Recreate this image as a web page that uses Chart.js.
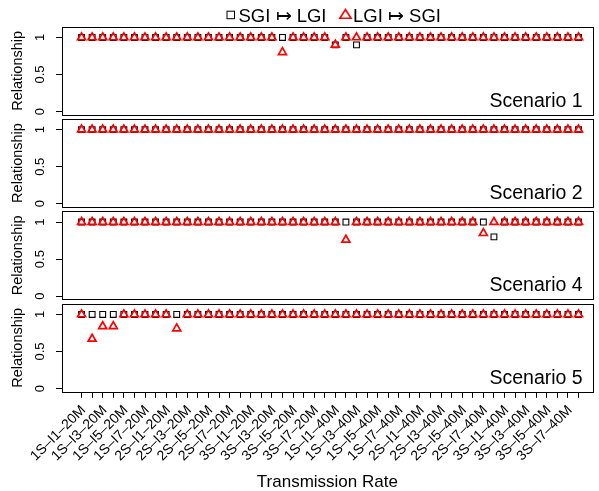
<!DOCTYPE html>
<html><head><meta charset="utf-8">
<script src="https://cdn.jsdelivr.net/npm/chart.js@4.4.1/dist/chart.umd.min.js"></script>
<style>
html,body{margin:0;padding:0;background:#fff;}
#wrap{position:relative;width:599px;height:491px;background:#fff;}
canvas{position:absolute;left:0;top:0;}
</style></head><body>
<div id="wrap">
<canvas id="c1" width="599" height="491"></canvas>
<canvas id="c2" width="599" height="491"></canvas>
<canvas id="c3" width="599" height="491"></canvas>
<canvas id="c4" width="599" height="491"></canvas>
</div>
<script>
const categories = [
 "1S–I1–20M","1S–I2–20M","1S–I3–20M","1S–I4–20M","1S–I5–20M","1S–I6–20M","1S–I7–20M","1S–I8–20M",
 "2S–I1–20M","2S–I2–20M","2S–I3–20M","2S–I4–20M","2S–I5–20M","2S–I6–20M","2S–I7–20M","2S–I8–20M",
 "3S–I1–20M","3S–I2–20M","3S–I3–20M","3S–I4–20M","3S–I5–20M","3S–I6–20M","3S–I7–20M","3S–I8–20M",
 "1S–I1–40M","1S–I2–40M","1S–I3–40M","1S–I4–40M","1S–I5–40M","1S–I6–40M","1S–I7–40M","1S–I8–40M",
 "2S–I1–40M","2S–I2–40M","2S–I3–40M","2S–I4–40M","2S–I5–40M","2S–I6–40M","2S–I7–40M","2S–I8–40M",
 "3S–I1–40M","3S–I2–40M","3S–I3–40M","3S–I4–40M","3S–I5–40M","3S–I6–40M","3S–I7–40M","3S–I8–40M"
];
const yTicks = [0, 0.5, 1];
const yTickLabels = ["0", "0.5", "1"];
const seriesNames = ["SGI \u21A6 LGI", "LGI \u21A6 SGI"];
const scenarioNames = ["Scenario 1", "Scenario 2", "Scenario 4", "Scenario 5"];

const s1_sgi = [
 1,1,1,1,1,1,1,1,1,1,1,1,
 1,1,1,1,1,1,1,1,1,1,1,1,
 0.9,1,0.9,1,1,1,1,1,1,1,1,1,
 1,1,1,1,1,1,1,1,1,1,1,1];
const s1_lgi = [
 1,1,1,1,1,1,1,1,1,1,1,1,
 1,1,1,1,1,1,1,0.8,1,1,1,1,
 0.9,1,1,1,1,1,1,1,1,1,1,1,
 1,1,1,1,1,1,1,1,1,1,1,1];
const s2_sgi = [
 1,1,1,1,1,1,1,1,1,1,1,1,
 1,1,1,1,1,1,1,1,1,1,1,1,
 1,1,1,1,1,1,1,1,1,1,1,1,
 1,1,1,1,1,1,1,1,1,1,1,1];
const s2_lgi = [
 1,1,1,1,1,1,1,1,1,1,1,1,
 1,1,1,1,1,1,1,1,1,1,1,1,
 1,1,1,1,1,1,1,1,1,1,1,1,
 1,1,1,1,1,1,1,1,1,1,1,1];
const s4_sgi = [
 1,1,1,1,1,1,1,1,1,1,1,1,
 1,1,1,1,1,1,1,1,1,1,1,1,
 1,1,1,1,1,1,1,1,1,1,1,1,
 1,1,1,0.8,1,1,1,1,1,1,1,1];
const s4_lgi = [
 1,1,1,1,1,1,1,1,1,1,1,1,
 1,1,1,1,1,1,1,1,1,1,1,1,
 1,0.76,1,1,1,1,1,1,1,1,1,1,
 1,1,0.85,1,1,1,1,1,1,1,1,1];
const s5_sgi = [
 1,1,1,1,1,1,1,1,1,1,1,1,
 1,1,1,1,1,1,1,1,1,1,1,1,
 1,1,1,1,1,1,1,1,1,1,1,1,
 1,1,1,1,1,1,1,1,1,1,1,1];
const s5_lgi = [
 1,0.67,0.84,0.84,1,1,1,1,1,0.81,1,1,
 1,1,1,1,1,1,1,1,1,1,1,1,
 1,1,1,1,1,1,1,1,1,1,1,1,
 1,1,1,1,1,1,1,1,1,1,1,1];

const FONT = '"Liberation Sans", Arial, Helvetica, sans-serif';
const W = 599, H = 491;
const panels = [
  {id:"c1", sgi:s1_sgi, lgi:s1_lgi, name:scenarioNames[0], top:26.8, bottom:114.8},
  {id:"c2", sgi:s2_sgi, lgi:s2_lgi, name:scenarioNames[1], top:119.0, bottom:207.0},
  {id:"c3", sgi:s4_sgi, lgi:s4_lgi, name:scenarioNames[2], top:211.4, bottom:299.4},
  {id:"c4", sgi:s5_sgi, lgi:s5_lgi, name:scenarioNames[3], top:303.8, bottom:391.8}
];

function toPts(arr){ return arr.map((v,i)=>({x:i+1, y:v})); }

const panelPlugin = {
  id: 'panelDecor',
  afterDraw(chart, args, opts) {
    const ctx = chart.ctx, a = chart.chartArea, ys = chart.scales.y;
    ctx.save();
    // box
    ctx.strokeStyle = '#000'; ctx.lineWidth = 1;
    ctx.strokeRect(Math.round(a.left)+0.5, Math.round(a.top)+0.5, Math.round(a.right-a.left), Math.round(a.bottom-a.top));
    // y tick labels
    ctx.fillStyle = '#000';
    ctx.font = '13px ' + FONT;
    ctx.textAlign = 'center'; ctx.textBaseline = 'alphabetic';
    yTicks.forEach((v,i) => {
      const py = ys.getPixelForValue(v);
      ctx.save(); ctx.translate(44, py); ctx.rotate(-Math.PI/2);
      ctx.fillText(yTickLabels[i], 0, 0); ctx.restore();
    });
    // y title
    ctx.font = '14.5px ' + FONT;
    ctx.save(); ctx.translate(22, (a.top + a.bottom)/2); ctx.rotate(-Math.PI/2);
    ctx.fillText('Relationship', 0, 0); ctx.restore();
    // scenario label
    ctx.font = '19.5px ' + FONT;
    ctx.textAlign = 'right';
    ctx.fillText(opts.name, a.right - 10, a.bottom - 8);
    // legend
    if (opts.legend) {
      ctx.font = '18.5px ' + FONT;
      ctx.textAlign = 'left';
      const ly = 15;
      ctx.strokeStyle = '#000'; ctx.lineWidth = 1;
      ctx.strokeRect(227, ly - 3.8, 7.5, 7.5);
      const tx1 = 238.5;
      ctx.fillText(seriesNames[0], tx1, 21.7);
      const w1 = ctx.measureText(seriesNames[0]).width;
      const tcx = tx1 + w1 + 19;
      ctx.strokeStyle = '#ff0000'; ctx.lineWidth = 1.6;
      ctx.beginPath();
      ctx.moveTo(tcx, 9.5); ctx.lineTo(tcx + 5.6, 18.3); ctx.lineTo(tcx - 5.6, 18.3); ctx.closePath();
      ctx.stroke();
      ctx.fillText(seriesNames[1], tcx + 7.5, 21.7);
    }
    // x labels and title
    if (opts.bottomAxis) {
      const xs = chart.scales.x;
      ctx.font = '14px ' + FONT;
      ctx.textAlign = 'right'; ctx.textBaseline = 'middle';
      categories.forEach((c,i) => {
        if (i % 2 !== 0) return;
        const px = xs.getPixelForValue(i+1);
        ctx.save(); ctx.translate(px + 2, 408); ctx.rotate(-Math.PI/4);
        ctx.fillText(c, 0, 0); ctx.restore();
      });
      ctx.font = '17px ' + FONT;
      ctx.textAlign = 'center'; ctx.textBaseline = 'alphabetic';
      ctx.fillText('Transmission Rate', (a.left + a.right)/2, 487);
    }
    ctx.restore();
  }
};

panels.forEach((p, idx) => {
  const isBottom = idx === panels.length - 1;
  new Chart(document.getElementById(p.id), {
    type: 'scatter',
    data: {
      datasets: [
        { label: seriesNames[0], data: toPts(p.sgi), order: 1,
          pointStyle: 'rect', pointRadius: 4.1, pointHoverRadius: 4.1,
          borderColor: '#000', backgroundColor: 'rgba(0,0,0,0)', pointBorderWidth: 1.1 },
        { label: seriesNames[1], data: toPts(p.lgi), order: 0,
          pointStyle: 'triangle', pointRadius: 4.6, pointHoverRadius: 4.6,
          borderColor: '#ff0000', backgroundColor: 'rgba(0,0,0,0)', pointBorderWidth: 1.7 }
      ]
    },
    options: {
      responsive: false, animation: false, devicePixelRatio: 1,
      layout: { padding: { top: p.top, bottom: H - p.bottom - (isBottom ? 6 : 0), left: 0, right: 3 } },
      plugins: { legend: { display: false }, tooltip: { enabled: false },
                 panelDecor: { name: p.name, legend: idx === 0, bottomAxis: isBottom } },
      events: [],
      scales: {
        x: { type: 'linear', min: -0.85, max: 49.34, display: isBottom,
             afterBuildTicks: s => { s.ticks = categories.map((c,i) => ({ value: i+1 })); },
             ticks: { display: false },
             grid: { drawOnChartArea: false, drawTicks: true, tickLength: 6, color: '#000', lineWidth: 1 },
             border: { display: false },
             afterFit: s => { s.height = isBottom ? 6 : 0; } },
        y: { type: 'linear', min: -0.044, max: 1.144,
             afterBuildTicks: s => { s.ticks = yTicks.map(v => ({ value: v })); },
             ticks: { display: false },
             grid: { drawOnChartArea: false, drawTicks: true, tickLength: 6, color: '#000', lineWidth: 1 },
             border: { display: false },
             afterFit: s => { s.width = 62; } }
      }
    },
    plugins: [panelPlugin]
  });
});
</script>
</body></html>
